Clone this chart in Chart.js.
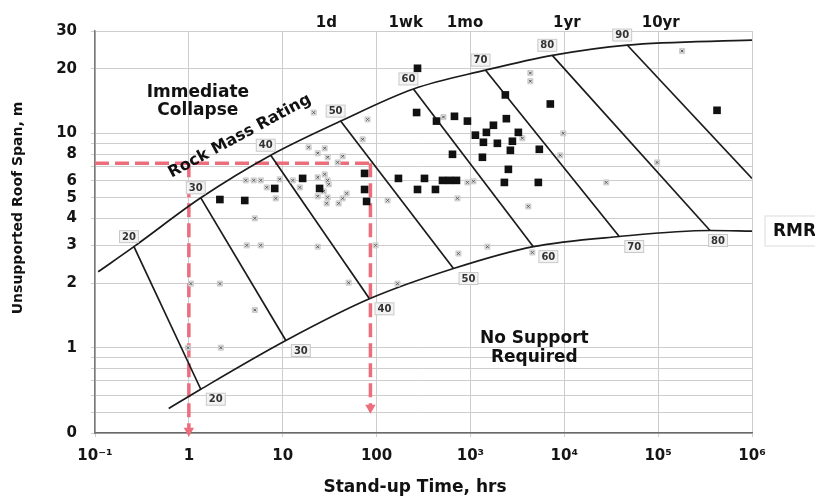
<!DOCTYPE html>
<html><head><meta charset="utf-8">
<script src="https://cdn.jsdelivr.net/npm/chart.js@4.4.0/dist/chart.umd.min.js"></script>
<style>html,body{margin:0;padding:0;background:#fff;}</style>
</head><body>
<canvas id="c" width="815" height="496"></canvas>
<script>
// ---------- data ----------
const xTickValues = [0.1, 1, 10, 100, 1000, 10000, 100000, 1000000];
const xTickLabels = ['10\u207B\u00B9', '1', '10', '100', '10\u00B3', '10\u2074', '10\u2075', '10\u2076'];
const topTickValues = [24, 168, 720, 8760, 87600];
const topTickLabels = ['1d', '1wk', '1mo', '1yr', '10yr'];
const yTickValues = [0.4,0.5,0.6,0.7,0.8,0.9,1,2,3,4,5,6,7,8,9,10,20,30];
const yTickLabels = ['0','','','','','','1','2','3','4','5','6','','8','','10','20','30'];

const rmrClasses   = [20, 30, 40, 50, 60, 70, 80, 90];
const rmrUpperTime = [0.26, 1.34, 7.45, 41.4, 247, 1450, 7450, 46800];
const rmrUpperSpan = [2.96, 5.0, 7.9, 11.4, 16.1, 19.7, 23.1, 25.8];
const rmrLowerTime = [1.34, 10.8, 84, 660, 4680, 38500, 357000, 1000000];
const rmrLowerSpan = [0.64, 1.08, 1.69, 2.34, 2.96, 3.30, 3.52, 6.16];

const collapseTime = [0.108, 0.26, 1.34, 7.45, 41.4, 247, 1450, 7450, 46800, 1000000];
const collapseSpan = [2.26, 2.96, 5.0, 7.9, 11.4, 16.1, 19.7, 23.1, 25.8, 27.2];
const noSupportTime = [0.61, 1.34, 10.8, 84, 660, 4680, 38500, 357000, 1000000];
const noSupportSpan = [0.52, 0.64, 1.08, 1.69, 2.34, 2.96, 3.30, 3.52, 3.5];

const blackTime = [2.14,3.94,8.22,16.3,24.7,74.5,74.5,78.3,273,267,435,676,929,2355,7100,2415,1758,1130,1480,3240,1375,1937,2800,2665,5420,644,1342,2537,171,324,504,598,710,273,424,2300,5290,424000];
const blackSpan = [4.91,4.86,5.53,6.16,5.53,6.50,5.47,4.81,20.1,12.5,11.4,12.0,11.4,15.1,13.7,11.7,10.9,9.8,10.1,10.1,9.08,8.98,9.18,8.33,8.42,7.98,7.73,6.79,6.16,6.16,6.03,6.03,6.03,5.47,5.47,5.90,5.90,12.8];

const grayTime = [18.9,28.0,23.6,43.5,30.1,71.0,38.5,4.04,4.91,5.83,9.29,6.76,12.8,15.2,8.43,23.6,28.0,30.1,30.9,27.3,23.6,30.1,29.4,48.0,43.5,39.4,5.04,4.14,5.83,23.6,1.05,2.14,50.4,5.04,2.19,0.98,21.4,80.2,516,131,727,929,1077,4140,4350,4350,9750,9060,97.6,1517,745,4570,167,3575,180000,97600,28000];
const graySpan = [8.60,8.51,8.07,7.81,7.73,9.37,7.31,6.03,6.03,6.03,6.10,5.59,6.03,5.59,4.97,6.23,6.43,6.03,5.78,5.36,5.08,5.02,4.71,5.24,4.97,4.71,4.01,3.00,3.00,2.96,1.99,1.99,2.01,1.50,1.0,1.0,12.5,11.6,11.9,4.86,4.97,5.90,5.97,4.56,19.1,17.5,10.0,7.89,3.0,2.96,2.75,2.78,1.99,9.48,24.2,7.31,5.90];

// worked example (red dashed)
const exampleSpan = 7.25;
const exampleTimes = [1, 86];
const exampleArrowEnds = [0.41, 0.525];
const exampleStartTime = 0.1;

// ---------- build ----------
const pts = (xs, ys) => xs.map((v, i) => ({x: v, y: ys[i]}));
const RED = '#ec6d7b';
const FONT = 'DejaVu Sans';

const datasets = [];
datasets.push({label:'black', data: pts(blackTime, blackSpan), pointStyle:'rect', pointRadius:5.4,
  backgroundColor:'#111', borderColor:'#111', borderWidth:0, showLine:false});
datasets.push({label:'grayX', data: pts(grayTime, graySpan), pointStyle:'crossRot', pointRadius:1.8,
  borderColor:'#555', borderWidth:1, showLine:false});
datasets.push({label:'grayBox', data: pts(grayTime, graySpan), pointStyle:'rect', pointRadius:3.6,
  backgroundColor:'#dedede', borderColor:'#c4c4c4', borderWidth:0.8, showLine:false});
datasets.push({label:'collapse', data: pts(collapseTime, collapseSpan), showLine:true, pointRadius:0,
  borderColor:'#1b1b1b', borderWidth:1.7, cubicInterpolationMode:'monotone', fill:false});
datasets.push({label:'nosupport', data: pts(noSupportTime, noSupportSpan), showLine:true, pointRadius:0,
  borderColor:'#1b1b1b', borderWidth:1.7, cubicInterpolationMode:'monotone', fill:false});
rmrClasses.forEach((c, i) => {
  datasets.push({label:'rmr'+c, data:[{x:rmrUpperTime[i], y:rmrUpperSpan[i]}, {x:rmrLowerTime[i], y:rmrLowerSpan[i]}],
    showLine:true, pointRadius:0, borderColor:'#1b1b1b', borderWidth:1.7});
});
datasets.push({label:'exH', data:[{x:exampleStartTime, y:exampleSpan}, {x:exampleTimes[1], y:exampleSpan}],
  showLine:true, pointRadius:0, borderColor:RED, borderWidth:3.5, borderDash:[14,6], clip:false});
exampleTimes.forEach((t, i) => {
  datasets.push({label:'exV'+i, data:[{x:t, y:exampleSpan}, {x:t, y:exampleArrowEnds[i]}],
    showLine:true, borderColor:RED, borderWidth:3.5, borderDash:[14,6], clip:false,
    pointRadius:[0, 6], pointStyle:'triangle', rotation:180, pointBackgroundColor:RED, pointBorderColor:RED, pointBorderWidth:0});
});

const annot = {
  id: 'annot',
  afterDatasetsDraw(chart) {
    const {ctx, scales:{x, y}, chartArea:a} = chart;
    const px = v => x.getPixelForValue(v), py = v => y.getPixelForValue(v);
    ctx.save();
    // RMR class labels
    ctx.font = 'bold 10px ' + FONT;
    ctx.textAlign = 'center'; ctx.textBaseline = 'middle';
    const box = (t, cx, cy) => {
      const w = ctx.measureText(t).width + 5, h = 12;
      ctx.fillStyle = '#f3f3f3'; ctx.strokeStyle = '#c9c9c9'; ctx.lineWidth = 1;
      ctx.fillRect(cx - w/2, cy - h/2, w, h); ctx.strokeRect(cx - w/2, cy - h/2, w, h);
      ctx.fillStyle = '#333'; ctx.fillText(t, cx, cy + 0.5);
    };
    rmrClasses.forEach((c, i) => {
      box(String(c), px(rmrUpperTime[i]) - 5, py(rmrUpperSpan[i]) - 10);
      if (c < 90) box(String(c), px(rmrLowerTime[i]) + (c === 80 ? 8 : 15), py(rmrLowerSpan[i]) + 10);
    });
    // region labels
    ctx.fillStyle = '#111';
    ctx.font = 'bold 17px ' + FONT;
    ctx.fillText('Immediate', px(1.247), py(15.55));
    ctx.fillText('Collapse', px(1.247), py(12.81));
    ctx.fillText('No Support', px(4797), py(1.10));
    ctx.fillText('Required', px(4797), py(0.898));
    ctx.save();
    ctx.translate(px(3.49), py(9.68));
    ctx.rotate(-28.3 * Math.PI / 180);
    ctx.font = 'bold 16px ' + FONT;
    ctx.fillText('Rock Mass Rating', 0, 0);
    ctx.restore();
    // RMR legend-like box on the right
    ctx.strokeStyle = '#dcdcdc'; ctx.lineWidth = 1;
    ctx.strokeRect(a.right + 13, 216, 70, 30);
    ctx.textAlign = 'left';
    ctx.font = 'bold 17px ' + FONT;
    ctx.fillStyle = '#111';
    ctx.fillText('RMR', a.right + 21, 232);
    // axis titles
    ctx.textAlign = 'center';
    ctx.font = 'bold 17px ' + FONT;
    ctx.fillText('Stand-up Time, hrs', 415, 488);
    ctx.save();
    ctx.translate(18, 208);
    ctx.rotate(-Math.PI/2);
    ctx.font = 'bold 14px ' + FONT;
    ctx.fillText('Unsupported Roof Span, m', 0, 0);
    ctx.restore();
    ctx.restore();
  }
};

new Chart(document.getElementById('c'), {
  type: 'scatter',
  data: { datasets },
  options: {
    responsive: false, animation: false,
    layout: { padding: { left: 0, right: 63, top: 0, bottom: 0 } },
    plugins: { legend: { display: false }, tooltip: { enabled: false } },
    elements: { line: { tension: 0 } },
    scales: {
      x: {
        type: 'logarithmic', position: 'bottom', min: 0.1, max: 1000000,
        afterBuildTicks: s => { s.ticks = xTickValues.map(v => ({value: v})); },
        afterFit: s => { s.height = 63; },
        ticks: { callback: (v, i) => xTickLabels[i], autoSkip: false, maxRotation: 0,
          font: { family: FONT, weight: 'bold', size: 15 }, color: '#151515', padding: 10 },
        grid: { color: '#cdcdcd', lineWidth: 1, tickLength: 4 },
        border: { color: '#6a6a6a', width: 1.5 }
      },
      x2: {
        type: 'logarithmic', position: 'top', min: 0.1, max: 1000000,
        afterBuildTicks: s => { s.ticks = topTickValues.map(v => ({value: v})); },
        afterFit: s => { s.height = 31; },
        ticks: { callback: (v, i) => topTickLabels[i], autoSkip: false, maxRotation: 0,
          font: { family: FONT, weight: 'bold', size: 15 }, color: '#151515', padding: -9, labelOffset: 8 },
        grid: { display: false, drawOnChartArea: false },
        border: { display: false }
      },
      y: {
        type: 'logarithmic', position: 'left', min: 0.4, max: 30,
        afterBuildTicks: s => { s.ticks = yTickValues.map(v => ({value: v})); },
        afterFit: s => { s.width = 95; },
        ticks: { callback: (v, i) => yTickLabels[i], autoSkip: false,
          font: { family: FONT, weight: 'bold', size: 15 }, color: '#151515', padding: 14 },
        grid: { color: '#cdcdcd', lineWidth: 1, tickLength: 4 },
        border: { color: '#7a7a7a', width: 1.5 }
      }
    }
  },
  plugins: [annot]
});
</script>
</body></html>
